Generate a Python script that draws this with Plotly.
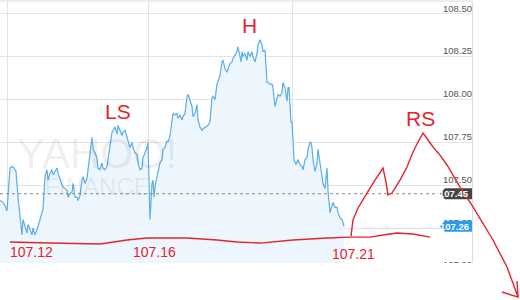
import plotly.graph_objects as go

# ---------------- data ----------------
t_step = [0, 3, 5, 7, 10, 12, 14, 16, 18, 20, 22, 23, 25, 27, 28, 30, 32, 33, 35, 37, 38, 40, 42, 43,
          45, 47, 48, 50, 52, 53, 55, 57, 58, 60, 62, 63, 67, 68, 70, 72, 73, 75, 77, 78, 80, 82, 83, 85,
          87, 88, 90, 92, 93, 95, 97, 98, 100, 102, 103, 105, 107, 108, 110, 112, 113, 115, 117, 118, 120,
          122, 123, 125, 127, 128, 130, 132, 133, 135, 137, 138, 140, 142, 143, 145, 147, 148, 149, 150,
          151, 152, 153, 154, 155, 156, 158, 160, 162, 163, 165, 167, 168, 170, 172, 173, 175, 177, 178,
          180, 182, 183, 185, 187, 188, 190, 192, 193, 195, 197, 198, 200, 202, 203, 205, 207, 208, 210,
          212, 213, 215, 217, 218, 220, 222, 223, 225, 227, 228, 230, 232, 233, 235, 237, 238, 240, 241,
          242, 243, 245, 247, 248, 250, 252, 253, 255, 257, 258, 260, 262, 263, 265, 266, 267, 268, 270,
          272, 273, 275, 277, 278, 280, 282, 283, 285, 287, 288, 289, 290, 291, 292, 293, 294, 296, 298,
          300, 302, 303, 305, 307, 308, 310, 311, 312, 313, 315, 317, 318, 320, 322, 323, 325, 327, 328,
          329, 330, 332, 333, 335, 337, 338, 340, 342, 343, 344]
price = [107.41, 107.40, 107.38, 107.35, 107.60, 107.61, 107.60, 107.58, 107.43, 107.30, 107.21, 107.30,
         107.26, 107.22, 107.27, 107.24, 107.21, 107.25, 107.21, 107.24, 107.26, 107.31, 107.34, 107.36,
         107.55, 107.59, 107.53, 107.57, 107.59, 107.56, 107.58, 107.60, 107.57, 107.53, 107.50, 107.49,
         107.47, 107.43, 107.45, 107.46, 107.51, 107.43, 107.43, 107.41, 107.44, 107.53, 107.55, 107.51,
         107.54, 107.59, 107.68, 107.78, 107.71, 107.69, 107.66, 107.60, 107.59, 107.63, 107.60, 107.59,
         107.61, 107.66, 107.73, 107.81, 107.82, 107.84, 107.80, 107.85, 107.82, 107.79, 107.81, 107.82,
         107.78, 107.76, 107.72, 107.75, 107.72, 107.69, 107.68, 107.63, 107.59, 107.60, 107.66, 107.69,
         107.72, 107.75, 107.56, 107.30, 107.41, 107.51, 107.53, 107.43, 107.49, 107.53, 107.58, 107.63,
         107.65, 107.71, 107.72, 107.76, 107.75, 107.79, 107.86, 107.92, 107.91, 107.92, 107.89, 107.91,
         107.88, 107.90, 107.92, 108.02, 108.03, 108.00, 107.96, 107.90, 107.92, 107.97, 107.88, 107.84,
         107.82, 107.83, 107.84, 107.85, 107.85, 107.87, 108.01, 108.02, 108.00, 108.09, 108.11, 108.14,
         108.22, 108.23, 108.18, 108.16, 108.18, 108.21, 108.22, 108.24, 108.26, 108.28, 108.31, 108.26,
         108.22, 108.28, 108.25, 108.27, 108.23, 108.28, 108.25, 108.28, 108.25, 108.22, 108.27, 108.32,
         108.35, 108.32, 108.28, 108.29, 108.22, 108.10, 108.10, 108.09, 108.09, 108.07, 107.96, 108.02,
         108.03, 108.02, 108.04, 108.10, 108.07, 107.99, 108.07, 108.07, 107.98, 107.87, 107.87, 107.78,
         107.65, 107.62, 107.65, 107.62, 107.61, 107.59, 107.65, 107.66, 107.71, 107.75, 107.75, 107.72,
         107.65, 107.58, 107.63, 107.71, 107.63, 107.57, 107.51, 107.48, 107.60, 107.47, 107.40, 107.34,
         107.38, 107.40, 107.37, 107.37, 107.34, 107.31, 107.30, 107.27, 107.26]

y_ticks = [107.00, 107.25, 107.50, 107.75, 108.00, 108.25, 108.50]
y_tick_labels = ["107.00", "107.25", "107.50", "107.75", "108.00", "108.25", "108.50"]
x_grid = [7, 148, 292]

prev_close = 107.45
prev_close_label = "107.45"
last_price = 107.26
last_price_label = "107.26"

# hand-drawn red overlay (time step, price)
base_t = [10, 50, 100, 127, 147, 163, 187, 217, 237, 260, 293, 327, 350, 370, 383, 397, 413, 430]
base_p = [107.168, 107.162, 107.157, 107.180, 107.192, 107.192, 107.192, 107.180, 107.168, 107.162,
          107.180, 107.192, 107.197, 107.197, 107.209, 107.221, 107.215, 107.197]
rs_t = [351, 353, 358, 367, 375, 383, 386, 388, 392, 400, 407, 413, 418, 423, 428, 433, 440, 447, 460,
        473, 493, 507, 518]
rs_p = [107.203, 107.297, 107.367, 107.454, 107.530, 107.600, 107.519, 107.443, 107.454, 107.530,
        107.606, 107.694, 107.752, 107.805, 107.764, 107.723, 107.676, 107.618, 107.489, 107.373,
        107.180, 107.022, 106.847]
arrow_t = [502, 518, 517]
arrow_p = [106.876, 106.847, 106.940]

note_text = ["H", "LS", "RS", "107.12", "107.16", "107.21"]
note_t = [249, 118, 420, 31, 154, 353]
note_p = [108.43, 107.93, 107.89, 107.107, 107.112, 107.097]
note_size = [21, 21, 21, 14, 14, 14]

X0, X1 = 0, 472
Y0, Y1 = 107.0456, 108.5759
PLOT_H = 262

RED = "#e3242b"
GRID = "#e4e4e4"


def to_paper(tv, pv):
    return (tv - X0) / (X1 - X0), (pv - Y0) / (Y1 - Y0)


def path_of(ts, ps):
    pts = [to_paper(a, b) for a, b in zip(ts, ps)]
    return "M " + " L ".join(f"{x:.5f},{y:.5f}" for x, y in pts)


fig = go.Figure()

fig.add_trace(go.Scatter(
    x=t_step, y=price, mode="lines",
    line=dict(color="#5aaee9", width=1.2),
    fill="tozeroy", fillcolor="#edf5fd",
    hoverinfo="skip", showlegend=False,
))

# y tick labels (inside, above gridlines, clipped by the plot area)
fig.add_trace(go.Scatter(
    x=[X1] * len(y_ticks), y=y_ticks, mode="text", text=y_tick_labels,
    textposition="top left", cliponaxis=True,
    textfont=dict(family="Liberation Sans, Arial, sans-serif", size=9.5, color="#555555"),
    hoverinfo="skip", showlegend=False,
))

shapes = []
# top border
shapes.append(dict(type="line", xref="paper", yref="paper", x0=0, x1=1, y0=1, y1=1,
                   line=dict(color="#dcdcdc", width=1)))
# previous close dotted line
tip_x = 440 / (X1 - X0)
body_x = 445 / (X1 - X0)
shapes.append(dict(type="line", xref="paper", yref="y", x0=0, x1=tip_x - 0.004, y0=prev_close,
                   y1=prev_close, line=dict(color="#8a8a8a", width=1, dash="dot"), layer="above"))

hh = 5.5 / PLOT_H
for v, col in [(prev_close, "#454545"), (last_price, "#2a9bef")]:
    yc = (v - Y0) / (Y1 - Y0)
    p = (f"M {tip_x:.5f},{yc:.5f} L {body_x:.5f},{yc + hh:.5f} L 1,{yc + hh:.5f} "
         f"L 1,{yc - hh:.5f} L {body_x:.5f},{yc - hh:.5f} Z")
    shapes.append(dict(type="path", xref="paper", yref="paper", path=p,
                       fillcolor=col, line=dict(width=0), layer="above"))

# red hand-drawn strokes
for ts, ps in [(base_t, base_p), (rs_t, rs_p), (arrow_t, arrow_p)]:
    shapes.append(dict(type="path", xref="paper", yref="paper", path=path_of(ts, ps),
                       line=dict(color=RED, width=1.4), layer="above"))

annotations = []
for lbl, v in [(prev_close_label, prev_close), (last_price_label, last_price)]:
    annotations.append(dict(xref="paper", yref="y", x=1, y=v, xanchor="right", yanchor="middle",
                            xshift=-1, text=f"<b>{lbl}</b>", showarrow=False,
                            font=dict(family="Liberation Sans, Arial, sans-serif", size=9.5,
                                      color="white")))

# watermark (single text block)
annotations.append(dict(xref="x", yref="y", x=97, y=107.62, yanchor="middle",
                        text=("<span style='font-size:42px'>YAHOO!</span><br>"
                              "<span style='font-size:24px'>FINANCE</span>"),
                        showarrow=False,
                        font=dict(family="Liberation Sans, Arial, sans-serif", size=21,
                                  color="rgba(0,0,0,0.07)")))

for txt, tv, pv, sz in zip(note_text, note_t, note_p, note_size):
    annotations.append(dict(xref="x", yref="y", x=tv, y=pv, text=txt, showarrow=False,
                            font=dict(family="Liberation Sans, sans-serif", size=sz, color=RED)))

fig.update_layout(
    width=520, height=300,
    margin=dict(l=0, r=48, t=1, b=37),
    paper_bgcolor="white", plot_bgcolor="white",
    showlegend=False,
    shapes=shapes, annotations=annotations,
    xaxis=dict(range=[X0, X1], tickvals=x_grid, showticklabels=False, showgrid=True,
               gridcolor=GRID, gridwidth=1, zeroline=False, showline=False, ticks=""),
    yaxis=dict(range=[Y0, Y1], tickvals=y_ticks, showticklabels=False, showgrid=True,
               gridcolor=GRID, gridwidth=1, zeroline=False, side="right",
               showline=True, linecolor="#dcdcdc", linewidth=1, ticks=""),
)

fig.write_html("out.html")
